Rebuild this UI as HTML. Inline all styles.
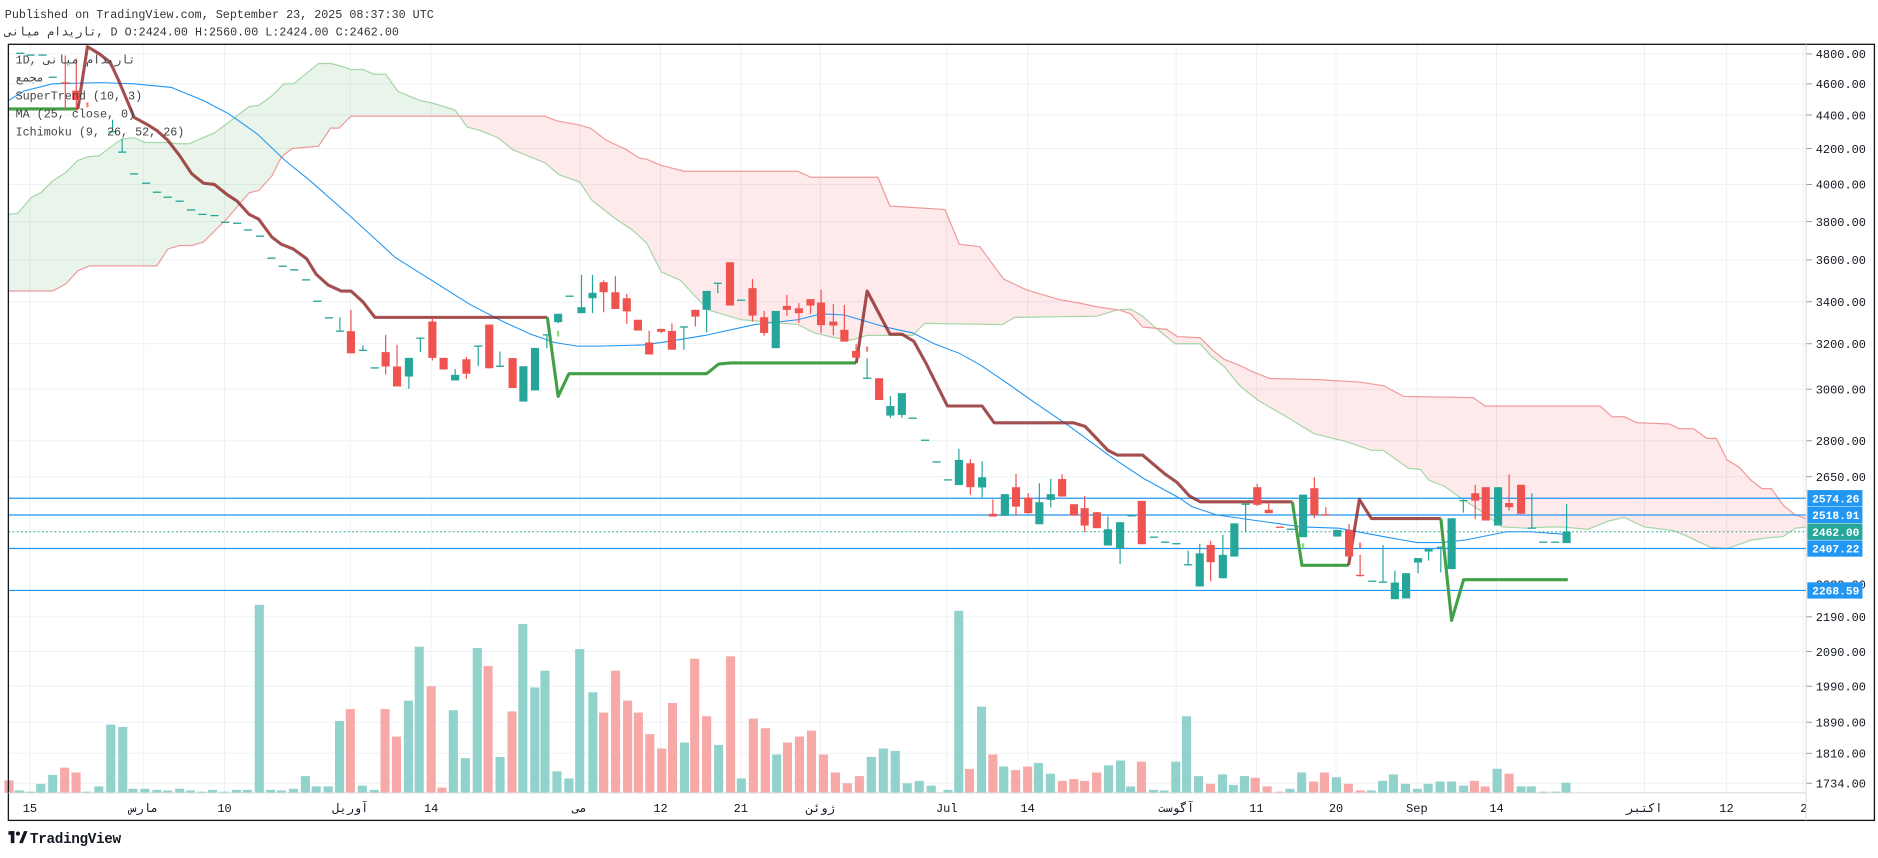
<!DOCTYPE html>
<html><head><meta charset="utf-8"><style>
html,body{margin:0;padding:0;background:#fff;}
svg{display:block;}
text{font-family:"Liberation Mono","Noto Sans CJK SC",monospace;}
</style></head><body>
<svg id="s" width="1878" height="858" viewBox="0 0 1568 716.4" preserveAspectRatio="none" xmlns="http://www.w3.org/2000/svg">
<rect x="0" y="0" width="1568" height="716.4" fill="#fff"/>
<text x="4" y="15" font-size="9.8" fill="#333">Published on TradingView.com, September 23, 2025 08:37:30 UTC</text>
<text x="4" y="29.5" font-size="9.8" fill="#333" direction="ltr">تاریدام میانی, D O:2424.00 H:2560.00 L:2424.00 C:2462.00</text>
<g id="grid" stroke="#eef0f4" stroke-width="0.8"></g>
<g id="cloud"></g>
<g id="vol"></g>
<g id="lines"></g>
<g id="candles"></g>
<g id="legend" font-size="9.8" fill="#444">
<text x="13" y="53" direction="ltr">1D, تاریدام میانی</text>
<text x="13" y="68" font-family="Liberation Sans,sans-serif">مجمع</text>
<text x="13" y="83">SuperTrend (10, 3)</text>
<text x="13" y="98">MA (25, close, 0)</text>
<text x="13" y="113">Ichimoku (9, 26, 52, 26)</text>
</g>
<g id="axis"></g>
<rect x="7" y="37" width="1558" height="648" fill="none" stroke="#131722" stroke-width="1.1"/>
<line x1="1508" y1="37" x2="1508" y2="685" stroke="#d6d8de" stroke-width="0.8"/>
<line x1="7" y1="662" x2="1508" y2="662" stroke="#d6d8de" stroke-width="0.8"/>
<g transform="translate(7,694)">
<rect x="0" y="0" width="5" height="3" fill="#131722"/><rect x="2" y="0" width="3" height="10" fill="#131722"/>
<circle cx="8" cy="2" r="1.7" fill="#131722"/><path d="M9 10 L13 0 L16 0 L12 10Z" fill="#131722"/>
<text x="18" y="10" font-size="12" font-weight="bold" fill="#131722" font-family="Liberation Sans,sans-serif" letter-spacing="-0.3">TradingView</text>
</g>
</svg>
<script>
const NS="http://www.w3.org/2000/svg";
function el(p,t,a){const e=document.createElementNS(NS,t);for(const k in a)e.setAttribute(k,a[k]);p.appendChild(e);return e;}
const G=id=>document.getElementById(id);
const ty=[[4800,45],[4600,70],[4400,96],[4200,124],[4000,154],[3800,185],[3600,217],[3400,252],[3200,287],[3000,325],[2800,368],[2650,398],[2190,515],[2090,544],[1990,573],[1890,603],[1810,629],[1734,654]];
const tx=[[25,"15"],[120,"مارس"],[187.5,"10"],[292.5,"آوریل"],[360,"14"],[484,"می"],[551.5,"12"],[618.5,"21"],[685,"ژوئن"],[790.5,"Jul"],[858,"14"],[982,"آگوست"],[1049,"11"],[1115.5,"20"],[1183,"Sep"],[1249.5,"14"],[1373,"اکتبر"],[1441.5,"12"],[1506,"2"]];
ty.forEach(([v,y])=>{el(G('grid'),'line',{x1:7,y1:y,x2:1508,y2:y});});
tx.forEach(([x])=>{el(G('grid'),'line',{x1:x,y1:37,x2:x,y2:662});});
const ax=G('axis');
ty.forEach(([v,y])=>{el(ax,'line',{x1:1508,y1:y,x2:1513,y2:y,stroke:'#999','stroke-width':0.8});const t=el(ax,'text',{x:1516,y:y+3.6,'font-size':10,fill:'#131722','font-family':'Liberation Sans,sans-serif'});t.textContent=v.toFixed(2);});
const t2=el(ax,'text',{x:1516,y:491.5,'font-size':10,fill:'#131722','font-family':'Liberation Sans,sans-serif'});t2.textContent="2280.00";
tx.forEach(([x,s])=>{const t=el(ax,'text',{x:x,y:678,'font-size':10,fill:'#131722','text-anchor':'middle','font-family':'Liberation Sans,"Noto Sans CJK SC",sans-serif'});t.textContent=s;});
const L=G('lines');
[416,430,458,493].forEach(y=>{el(L,'line',{x1:7,y1:y,x2:1508,y2:y,stroke:'#2196f3','stroke-width':1});});
el(L,'line',{x1:7,y1:444,x2:1508,y2:444,stroke:'#26a69a','stroke-width':0.9,'stroke-dasharray':'1.5,2'});
const A=[[7,179],[15,178],[26,165],[34,161],[44,151],[55,144],[65,134],[73,131],[83,130],[92,123],[102,116],[112,115],[121,119],[140,119],[148,120],[158,120],[167,116],[179,111],[191,102],[208,89],[216,88],[227,80],[237,70],[245,70],[266,53],[276,53],[284,55],[293,58],[303,58],[312,62],[322,62],[332,76],[341,80],[351,84],[361,86],[380,92],[390,106],[401,109],[416,115],[428,125],[455,136],[467,146],[484,152],[494,167],[513,182],[528,192],[540,203],[552,227],[568,234],[581,248],[592,259],[619,267],[666,271],[680,278],[697,282],[711,284],[724,280],[762,280],[772,270],[837,271],[847,265],[916,264],[932,259],[944,258],[954,264],[964,273],[981,287],[1002,287],[1012,298],[1022,306],[1035,322],[1050,334],[1074,348],[1097,362],[1125,369],[1145,376],[1155,376],[1176,391],[1186,392],[1193,401],[1206,406],[1220,416],[1237,427],[1254,440],[1275,441],[1292,440],[1305,440],[1326,442],[1343,435],[1356,432],[1373,440],[1397,443],[1407,447],[1428,457],[1442,458],[1462,451],[1476,449],[1489,448],[1499,441],[1508,440]];
const B=[[7,243],[44,243],[55,237],[65,226],[75,222],[131,222],[140,208],[150,205],[160,205],[170,202],[181,191],[191,181],[201,169],[208,161],[216,159],[227,147],[235,131],[244,124],[266,122],[276,107],[283,107],[293,97],[455,97],[465,101],[482,104],[493,107],[506,117],[523,125],[534,132],[540,133],[552,138],[571,143],[666,143],[677,148],[733,148],[743,172],[789,175],[801,204],[818,206],[838,233],[857,242],[884,250],[901,253],[915,256],[935,259],[944,262],[954,273],[974,275],[983,281],[1002,282],[1012,292],[1022,300],[1035,305],[1045,310],[1060,316],[1101,317],[1135,319],[1155,322],[1172,331],[1230,332],[1240,339],[1336,339],[1346,348],[1356,348],[1367,353],[1394,354],[1402,358],[1414,358],[1425,366],[1433,366],[1442,384],[1452,390],[1462,401],[1471,408],[1479,408],[1489,422],[1499,430],[1508,433]];
const pts=a=>a.map(p=>p.join(',')).join(' ');
const C=G('cloud');
const defs=el(G('s'),'defs',{});
const c1=el(defs,'clipPath',{id:'cl'});el(c1,'rect',{x:0,y:0,width:385,height:716});
const c2=el(defs,'clipPath',{id:'cr'});el(c2,'rect',{x:385,y:0,width:1200,height:716});
const poly=pts(A.concat(B.slice().reverse()));
el(C,'polygon',{points:poly,fill:'rgba(76,175,80,0.12)','clip-path':'url(#cl)'});
el(C,'polygon',{points:poly,fill:'rgba(242,54,69,0.11)','clip-path':'url(#cr)'});
el(C,'polyline',{points:pts(A),fill:'none',stroke:'#a5d6a7','stroke-width':1});
el(C,'polyline',{points:pts(B),fill:'none',stroke:'#ef9a9a','stroke-width':1});
const V=[[7.5,651.6,'r'],[16,660,'g'],[25,661,'g'],[34,654.5,'g'],[44,647,'g'],[54,641,'r'],[63.5,645,'r'],[72.5,661,'g'],[82.5,656.6,'g'],[92.5,605,'g'],[102.5,607,'g'],[111,658.6,'g'],[121,658.6,'g'],[131,659.5,'g'],[140,660,'g'],[150,658.6,'g'],[159,660,'g'],[168.5,661,'g'],[177.5,659.5,'g'],[187.5,661,'g'],[197.5,659.5,'g'],[206.5,659.5,'g'],[216.5,505,'g'],[226,659.5,'g'],[235,660,'g'],[245,658.6,'g'],[255,648,'g'],[264,656.6,'g'],[274,656.6,'g'],[283.5,602,'g'],[292.5,592,'r'],[302.5,656,'g'],[312.5,659.5,'g'],[321.5,592,'r'],[331,615,'r'],[341,585,'g'],[350,540,'g'],[360,573,'r'],[369,657.6,'r'],[378.5,593,'g'],[388.5,633,'g'],[398.5,541,'g'],[407.5,556,'r'],[417.5,632,'g'],[427.5,594,'r'],[436.5,521,'g'],[446.5,574,'g'],[455,560,'g'],[465,644,'g'],[475,650,'g'],[484,542,'g'],[495,578,'g'],[504,595,'r'],[514,560,'r'],[524,585,'r'],[533,595,'r'],[542.5,613,'r'],[552.5,625,'r'],[561.5,587,'r'],[571.5,620,'g'],[580,550,'r'],[590,598,'r'],[600,622,'g'],[610,548,'r'],[619,650,'g'],[629,600,'r'],[639,608,'r'],[648.5,630,'g'],[657.5,620,'r'],[667.5,615,'r'],[677.5,610,'r'],[687.5,630,'r'],[697.5,645,'r'],[707.5,654,'r'],[717.5,648,'r'],[727.5,632,'g'],[737.5,625,'g'],[747.5,627,'g'],[757.5,654,'g'],[767.5,652,'g'],[777.5,656,'g'],[791.5,659.5,'g'],[800.5,510,'g'],[809.5,642,'r'],[819.5,590,'g'],[829,630,'r'],[838,640,'g'],[848,643,'r'],[858,640,'r'],[867,637,'g'],[877,646,'g'],[887,652,'r'],[896.6,650.5,'r'],[905.6,652,'r'],[915.6,645,'r'],[925.6,639,'g'],[935.6,635,'g'],[944,656.6,'g'],[953,636,'r'],[963,659.5,'g'],[972,660,'g'],[981.7,636,'g'],[990.7,598,'g'],[1000.7,648,'g'],[1010.7,654.5,'r'],[1020.7,646.6,'g'],[1029.7,655.4,'g'],[1039,648,'g'],[1048,649.4,'r'],[1058,656.6,'r'],[1068,661,'r'],[1077,658.6,'g'],[1086.8,645,'g'],[1096.8,652.5,'r'],[1105.8,645,'r'],[1115.8,649,'g'],[1125.8,654.5,'r'],[1135.8,660,'r'],[1144.8,660,'g'],[1154.4,652,'g'],[1163.4,646.6,'g'],[1173.4,654.5,'g'],[1183.4,658.6,'g'],[1192.4,654.5,'g'],[1202.4,652.5,'g'],[1212,652.5,'g'],[1222,656,'g'],[1231,652,'r'],[1240,656.6,'r'],[1250,641.9,'g'],[1260,646,'r'],[1270,656.6,'g'],[1278.5,656.6,'g'],[1288.5,661,'g'],[1298.5,661,'g'],[1307.5,653.5,'g']];
V.forEach(([x,y,c])=>{el(G('vol'),'rect',{x:x-3.8,y:y,width:7.6,height:662-y,fill:c=='r'?'#f7a9a7':'#92d2cc'});});
const MA=[[7,84],[20,76],[44,70],[85,69],[112,70],[143,73],[170,84],[191,95],[215,112],[238,134],[259,151],[293,181],[330,215],[365,237],[392,254],[419,268],[443,279],[463,286],[482,289],[501,289],[537,288],[552,286],[589,280],[630,271],[666,267],[686,262],[705,263],[739,273],[762,278],[780,287],[801,295],[819,305],[841,320],[865,337],[893,356],[927,381],[954,399],[985,416],[995,423],[1016,430],[1087,440],[1118,441],[1155,448],[1183,453],[1203,453],[1223,451],[1258,444],[1278,444],[1305,446]];
el(L,'polyline',{points:pts(MA),fill:'none',stroke:'#2196f3','stroke-width':0.9});
const SG='#43a047',SR='rgba(139,30,30,0.78)';
const st=[[SG,[[7,91],[65,91]]],[SR,[[65,91],[73,39],[83,45],[92,52],[99,67],[112,98],[123,104],[131,109],[140,117],[150,130],[160,145],[170,153],[179,154],[189,162],[198,168],[208,179],[216,183],[227,198],[235,204],[245,208],[256,216],[264,229],[274,238],[285,243],[293,243],[303,252],[313,265],[457,265]]],[SG,[[457,265],[466,331],[475,312],[590,312],[600,304],[610,303],[715,303]]],[SR,[[715,303],[724,243],[743,279],[753,279],[763,285],[773,303],[782,321],[791,339],[820,339],[830,353],[896,353],[906,356],[925,376],[933,380],[954,380],[973,396],[983,403],[993,414],[1002,419],[1079,419]]],[SG,[[1079,419],[1087,472],[1126,472]]],[SR,[[1126,472],[1135,417],[1145,433],[1203,433]]],[SG,[[1203,433],[1212,518],[1222,484],[1309,484]]]];
st.forEach(([c,p])=>el(L,'polyline',{points:pts(p),fill:'none',stroke:c,'stroke-width':2.6,'stroke-linejoin':'round'}));
const D=[];
const d=(x,y,c)=>D.push([x,y,y,y,y,c||'g']);
[[17,44.5],[25.5,46],[35.5,46],[44,64.5]].forEach(a=>d(a[0],a[1]));
D.push([54.5,68.7,70,46.4,92,'r'],[63.7,75.7,83.5,49,92,'r'],[73,85.4,89.6,85.4,89.6,'i'],[94,110,110,100,110,'g'],[102,127,127,116,127,'g']);
[[112,145.2],[122,153],[131,160.5],[140,164.7],[150,168],[159.5,175.3],[169,179],[179,180],[188,185.6],[198,186.4],[207,192],[217,197.2],[226.6,215.6],[236,222.3],[245.7,225.3],[255.5,233.7],[265,251.5],[274.6,265.4]].forEach(a=>d(a[0],a[1]));
D.push([283.8,276.5,276.5,265,276.5,'g'],[293,276.5,295,258.7,295,'r'],[303,292.5,292.5,288.5,292.5,'g'],[312.8,307.2,307.2,307.2,307.2,'g'],[322,294,306,279.6,312.7,'r'],[331.5,306,322.7,288,322.7,'r'],[341.4,298.8,314.4,298.8,324.7,'g'],[351,282.4,282.4,282.4,294,'g'],[361,268.5,298.8,265.4,301,'r'],[370.4,298.8,308.5,298.8,308.5,'r'],[380,313,317.7,308,317.7,'g'],[389.4,300,312,298,316.3,'r'],[399.3,289,289,289,305.8,'g'],[408.5,271,307.5,271,307.5,'r'],[417.4,305.8,305.8,293.5,305.8,'g'],[428,299,324,299,324,'r'],[437,305.8,335.3,305.8,335.3,'g'],[446.7,290.5,326,290.5,326,'g'],[456.6,279.6,279.6,279.6,290.8,'g'],[466,276,281,276,281,'l'],[466,262,269,262,270,'g'],[475.6,247.3,247.3,247.3,247.3,'g'],[485.5,256.5,261.5,229.5,261.5,'g'],[494.7,244.5,249,229.5,261.5,'g'],[504,235.6,244,234,260.7,'r'],[513.8,244,258,230.6,258,'r'],[523.3,249,260,245.4,270.4,'r'],[532.6,267,276,267,276,'r'],[542,286,296,276,296,'r'],[552,274.6,277,274.6,278,'r'],[561,276.3,292,270,292,'r'],[571,273,273,273,292,'g'],[580.6,258.7,264.3,258.7,272.6,'r'],[590,242.9,258.7,242.9,277.6,'g'],[599.3,236.5,236.5,236.5,244.8,'g'],[609.5,219,255.1,219,255.1,'r'],[618.8,250.7,250.7,250.7,250.7,'g'],[628.3,240.6,263.5,233,268.5,'r'],[638,264.9,278,259.6,280.4,'r'],[647.7,259.6,290.7,259.6,290.7,'g'],[657,255.4,258.7,246.2,263.7,'r'],[667,257.4,261.5,253,269.9,'r'],[676.7,249.8,255.1,249.8,262,'r'],[685.5,252.6,271.5,242,278,'r'],[695.8,268.5,271.8,254,280,'r'],[705,275.4,285.2,254.6,285.2,'r'],[714.8,293,298.6,287.2,298.6,'r'],[724,289.4,293.6,289.4,293.6,'i'],[724,315.8,315.8,299,315.8,'g'],[734,315.8,334,315.8,334,'r'],[743.4,339,347,330.6,349,'g'],[753,328.3,346.4,328.3,349,'g']);
[[762,349.2],[772.4,367.6],[782,385.7],[791.4,400.7]].forEach(a=>d(a[0],a[1]));
D.push([800.6,384,405,374.8,405,'g'],[810.2,386.8,406.8,383.4,413,'r'],[820,398.5,407,385,415.4,'g'],[829,429,431.3,417,431.3,'r'],[839,412.6,430.7,412.6,430.7,'g'],[848.3,406.8,423,395.7,430.7,'r'],[858.5,415.4,428.5,411.8,429,'r'],[867.8,419.3,437.7,403.5,437.7,'g'],[877.3,412.6,417.4,399.8,423.8,'g'],[886.8,400,414.6,396,414.6,'r'],[896.7,421,430.5,421,430.5,'r'],[905.6,424.3,438.8,414,444.4,'r'],[915.8,427.7,441,427.7,441,'r'],[925,441.9,455.5,431.3,455.5,'g'],[935.2,436,457.7,436,471,'g']);
d(944.8,430.7);D.push([953.3,418.2,454.4,418.2,454.4,'r']);
[[963.5,448.5],[972.7,452.7],[982.2,454]].forEach(a=>d(a[0],a[1]));
D.push([992,471.6,471.6,459.7,471.6,'g'],[1001.7,462,489.7,454,489.7,'g'],[1010.8,455,469.4,451.6,485.5,'r'],[1021,463.3,482.8,446.6,482.8,'g'],[1030.6,437,464.7,437,464.7,'g'],[1040,421,421,421,444.4,'g'],[1049.7,406.8,421.5,404,422.4,'r'],[1059.3,425.7,428.5,418.8,428.5,'r'],[1068.8,440.2,440.2,440.2,440.2,'r'],[1077.7,441.9,441.9,441.9,441.9,'g'],[1088,413,448.5,413,448.5,'g'],[1088,453.6,457.7,453.6,457.7,'l'],[1097.4,407.6,429.9,398.4,432.7,'r'],[1107,429.9,429.9,423.5,429.9,'r'],[1116.5,442.4,448,442.4,448,'g'],[1126.4,442.4,464.7,437.4,464.7,'r'],[1135.6,453,457.7,453,457.7,'i'],[1135.6,480.5,480.5,463.3,481.5,'r'],[1145.8,485.3,485.3,485.3,485.3,'g'],[1154.7,486.1,486.1,455,486.1,'g'],[1164.6,486.4,500.3,476.4,500.3,'g'],[1174,478.6,499.7,478.6,499.7,'g'],[1184,466,469.7,466,478.6,'g'],[1192.8,458.5,460.5,458.5,468,'g'],[1203,456.9,456.9,456.9,478,'g'],[1212,432.7,475.2,432.7,475.2,'g'],[1221.8,418,418,418,428,'g'],[1231.7,411.8,418,404.8,433.5,'r'],[1240.5,406.8,434.6,406.8,434.6,'r'],[1250.8,406.8,438.8,406.8,438.8,'g'],[1260,420,423.5,396,426.3,'r'],[1270,404.8,429,404.8,429,'r'],[1279,441,441,411.8,441,'g'],[1288.5,452.7,452.7,452.7,452.7,'g'],[1298.5,452.7,452.7,452.7,452.7,'g'],[1308,443.8,453.5,420.7,453.5,'g']);
const CG=G('candles');
D.forEach(([x,bt,bb,wt,wb,c])=>{
 if(c=='i'||c=='l'){el(CG,'rect',{x:x-0.9,y:bt,width:1.8,height:bb-bt,fill:c=='i'?'#f77c7a':'#7ee07e'});return;}
 const col=c=='r'?'#ef5350':'#26a69a';
 if(wb-wt>0.5)el(CG,'rect',{x:x-0.5,y:wt,width:1,height:wb-wt,fill:col});
 const h=Math.max(bb-bt,1.1);
 el(CG,'rect',{x:x-3.4,y:bt-(bb-bt<1.1?0.55:0),width:6.8,height:h,fill:col});
});
[[416,'2574.26','#2196f3'],[430,'2518.91','#2196f3'],[444,'2462.00','#26a69a'],[458,'2407.22','#2196f3'],[493,'2268.59','#2196f3']].forEach(([y,s,c])=>{
 el(ax,'rect',{x:1509,y:y-6.8,width:46,height:13.6,fill:c});
 const t=el(ax,'text',{x:1513,y:y+3.5,'font-size':9.4,'font-weight':'bold',fill:'#fff','font-family':'Liberation Sans,sans-serif'});t.textContent=s;
});
</script>
</body></html>
